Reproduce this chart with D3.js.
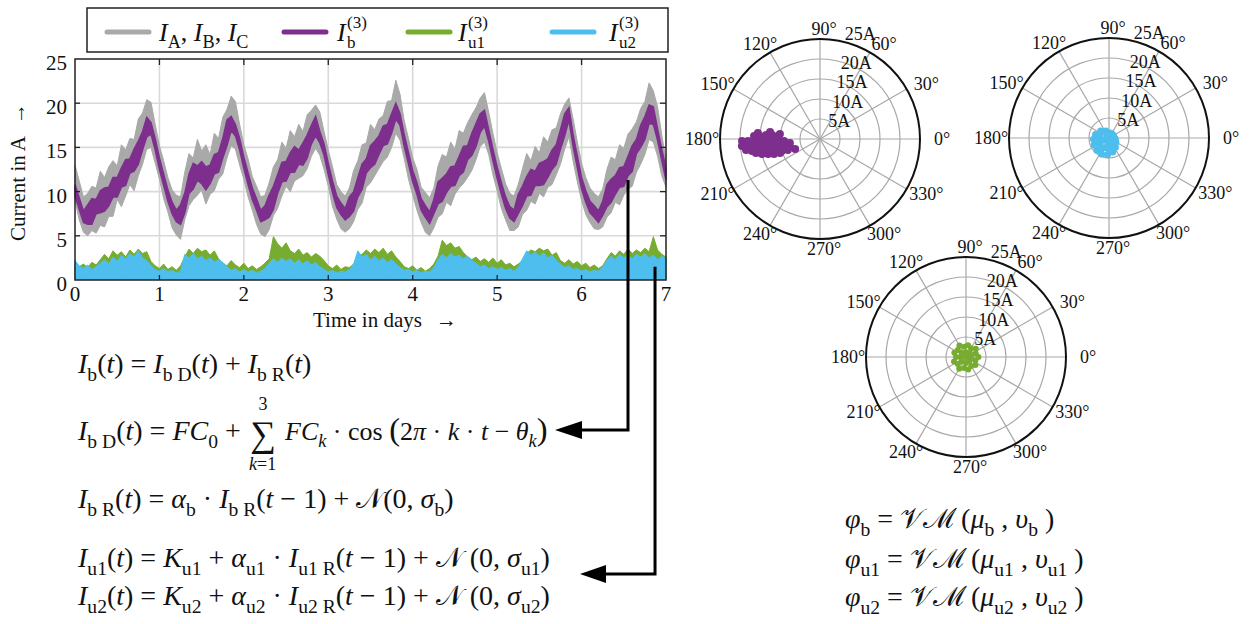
<!DOCTYPE html>
<html lang="en">
<head>
<meta charset="UTF-8">
<title>Current model</title>
<script src="https://d3js.org/d3.v7.min.js"></script>
<style>
  body { margin: 0; background: #fff; }
  text { font-family: "Liberation Serif", "Times New Roman", serif; fill: #111; white-space: pre; }
  .grid line { stroke: #d9d9d9; stroke-width: 1.6px; }
  .frame { fill: none; stroke: #222; stroke-width: 1.5px; }
  .tick { stroke: #222; stroke-width: 1.3px; }
  .pgrid { fill: none; stroke: #a8a8a8; stroke-width: 1.2px; }
  .arrow { fill: none; stroke: #000; stroke-width: 3px; }
</style>
</head>
<body>
<svg id="fig" width="1250" height="624"></svg>
<script>
/* global d3 */

// ---- data ----
var tStep = 0.05; // days between samples
var xTicks = [0, 1, 2, 3, 4, 5, 6, 7];
var yTicks = [0, 5, 10, 15, 20, 25];

// phase currents I_A, I_B, I_C: upper / lower trace
var gHi = [13.0,11.2,9.4,9.8,10.6,10.4,12.3,11.6,12.8,13.5, 12.9,15.3,14.7,16.0,15.9,18.2,18.9,20.4,20.1,17.6, 15.2,13.5,11.6,10.2,9.6,9.4,12.2,14.3,13.8,15.9, 14.6,15.3,14.2,16.6,16.0,18.4,19.3,20.8,20.2,17.6, 15.3,13.7,11.7,10.6,9.4,9.6,11.0,12.8,13.6,15.6, 14.9,16.9,16.2,17.6,16.8,18.7,19.2,19.8,19.0,16.8, 14.7,12.8,10.8,10.0,9.5,10.4,12.4,13.5,15.3,15.5, 17.6,17.0,18.2,18.6,20.2,20.3,22.6,21.0,18.0,16.0, 13.8,12.5,10.5,9.9,9.3,10.4,12.9,14.2,13.9,15.6, 14.8,16.9,16.6,17.8,18.7,19.5,20.6,21.2,19.0,16.6, 14.4,12.6,10.9,9.8,9.5,10.8,12.6,14.3,13.5,15.1, 14.4,16.2,15.6,17.0,17.2,18.8,19.9,20.6,18.2,15.6, 13.2,11.6,10.4,9.8,9.4,10.3,12.5,13.9,13.6,15.3, 14.9,16.5,17.1,17.9,19.4,20.2,22.3,21.4,19.6,16.4, 13.6];
var gLo = [9.0,6.8,5.4,5.0,5.6,5.3,6.2,6.0,7.2,7.2, 9.1,8.3,9.5,10.8,10.1,11.8,13.1,14.8,15.0,13.2, 11.4,9.2,7.7,5.9,5.1,4.6,6.8,8.4,9.1,9.6, 10.2,8.6,9.7,10.1,11.4,12.0,13.8,15.2,14.8,13.0, 11.4,9.4,7.9,6.3,5.2,4.9,5.7,7.3,8.1,9.5, 10.6,10.0,11.2,11.5,11.8,12.6,14.0,14.9,14.1,12.5, 10.6,8.3,6.9,5.8,5.4,5.8,6.6,8.0,8.7,10.5, 11.0,11.8,12.6,13.4,13.9,15.0,16.6,15.8,13.7,11.4, 9.6,7.9,6.5,5.4,5.0,5.9,7.1,7.5,8.8,8.4, 9.7,10.4,10.9,11.6,12.4,13.6,15.1,15.6,14.2,11.9, 10.1,8.1,6.8,5.6,5.6,6.0,7.4,7.9,8.9,8.6, 9.8,9.4,10.5,10.8,11.9,13.1,14.8,16.2,13.4,11.1, 9.0,7.4,6.5,5.8,5.7,6.0,7.1,7.6,8.8,8.5, 9.6,10.3,10.6,12.2,13.1,14.2,15.9,15.6,14.0,11.8, 10.5];

// synthetic balanced current I_b^(3): upper / lower edge of the noisy trace
var pHi = [10.8,9.3,7.8,8.5,9.2,9.1,10.1,10.4,10.5,11.6, 11.6,12.7,13.6,13.7,14.8,15.7,16.8,18.4,17.8,16.0, 13.8,12.0,10.2,8.8,7.9,8.5,9.8,12.0,13.2,12.9, 13.4,12.8,13.0,14.2,14.4,16.0,18.1,18.5,17.6,16.0, 13.9,12.1,10.4,9.2,7.9,8.4,9.6,10.6,11.9,13.3, 13.4,14.4,15.1,14.7,15.5,16.4,17.5,18.5,16.8,15.4, 13.2,11.2,9.5,8.7,8.1,9.4,10.0,11.6,13.1,13.7, 15.2,15.7,16.3,17.4,17.6,18.8,20.0,18.8,16.4,14.4, 12.4,11.0,9.2,8.4,7.7,9.1,11.1,11.5,12.0,12.8, 12.9,14.0,15.1,15.2,16.6,17.7,18.8,19.2,17.0,14.8, 12.8,11.0,9.4,8.3,7.9,9.7,10.6,11.7,12.5,12.3, 13.2,13.4,13.7,14.7,15.3,17.0,18.8,19.5,16.4,14.0, 11.6,10.1,8.9,8.4,7.8,8.9,10.8,11.4,11.8,12.7, 12.8,14.0,15.2,15.9,17.5,18.5,19.8,19.6,17.1,14.8, 12.6];
var pLo = [9.5,8.0,6.5,6.3,6.3,7.5,7.6,7.8,8.4,9.4, 9.4,10.5,10.7,12.1,12.3,13.1,14.7,16.2,16.5,14.7, 12.5,10.7,8.9,7.5,6.6,6.3,7.6,9.8,10.3,11.3, 10.9,10.2,10.9,12.0,12.2,13.8,15.2,16.9,16.3,14.7, 12.6,10.8,9.1,7.9,6.6,6.8,7.1,8.0,9.8,11.1, 11.2,12.2,12.2,13.1,13.0,13.8,15.4,16.3,15.5,14.1, 11.9,9.9,8.2,7.4,6.8,7.2,7.8,9.4,10.2,12.1, 12.7,13.1,14.2,15.2,15.4,16.6,18.2,17.5,15.1,13.1, 11.1,9.7,7.9,7.1,6.4,7.5,8.6,8.9,9.9,10.6, 10.7,11.8,12.2,13.6,14.1,15.1,16.7,17.4,15.7,13.5, 11.5,9.7,8.1,7.0,6.6,7.5,8.4,9.5,9.6,10.7, 10.7,10.8,11.6,12.5,13.1,14.8,16.3,18.1,15.1,12.7, 10.3,8.8,7.6,7.1,6.5,7.3,8.3,8.8,9.7,10.5, 10.6,11.8,12.3,14.3,15.0,15.9,17.7,17.6,15.8,13.5, 11.3];

// unbalance currents I_u1^(3) (green) and I_u2^(3) (blue): top of the noise
var u1 = [1.9,1.5,1.8,1.4,2.0,1.7,2.3,2.9,2.4,3.3, 2.8,3.2,2.6,3.4,2.9,3.5,3.0,3.2,2.1,1.6, 1.3,1.8,1.2,1.5,1.1,1.6,2.6,3.5,3.0,3.6, 3.2,3.4,2.8,3.3,2.4,1.9,1.6,2.2,1.7,1.4, 1.9,1.3,1.6,1.2,1.5,1.9,2.4,4.9,4.1,3.6, 4.2,3.3,3.0,3.5,2.8,3.1,2.6,3.0,2.7,2.2, 1.6,1.3,1.7,1.2,1.5,1.4,1.8,2.6,2.9,3.4, 3.0,3.5,3.1,3.6,2.9,3.3,2.6,2.1,1.5,1.3, 1.6,1.1,1.4,1.0,1.3,1.8,2.7,4.5,3.9,4.2, 3.6,3.8,3.1,2.6,2.3,2.6,2.1,2.4,2.0,2.5, 1.9,2.3,1.7,1.9,1.5,1.8,2.2,3.0,3.4,3.2, 3.6,3.3,3.5,2.8,3.1,2.2,1.9,2.3,1.8,2.1, 1.6,1.9,1.4,1.7,1.3,1.6,2.4,3.1,2.7,3.3, 2.9,3.5,3.0,3.4,3.1,3.6,3.2,4.9,3.4,2.9, 2.6];
var u2 = [2.2,1.6,1.3,1.7,1.2,1.5,1.9,2.3,1.8,2.6, 2.1,2.8,2.4,3.0,2.6,3.3,2.5,2.2,1.6,1.2, 1.0,1.3,0.9,1.1,0.8,1.0,2.9,2.5,3.0,2.4, 2.7,2.2,2.5,2.0,2.3,2.0,1.5,1.1,1.3,0.9, 1.2,0.9,1.1,0.8,1.0,1.3,1.9,2.4,2.0,2.5, 2.1,2.4,1.9,2.3,1.8,2.2,1.7,2.0,1.5,1.2, 0.9,1.1,0.8,1.0,0.9,1.2,1.8,3.3,2.6,2.9, 2.3,2.7,2.2,2.5,2.0,2.3,1.8,1.4,1.1,1.2, 0.9,1.1,0.8,1.0,0.9,1.4,2.3,2.9,2.5,3.0, 2.6,2.8,2.4,2.7,2.2,1.9,1.5,1.7,1.3,1.5, 1.2,1.4,1.1,1.3,1.0,1.4,2.4,3.3,2.8,3.2, 2.7,3.1,2.5,2.8,2.2,1.8,1.4,1.6,1.2,1.3, 1.0,1.2,0.9,1.1,1.0,1.5,2.2,2.7,2.3,2.9, 2.5,2.8,2.4,2.9,2.6,3.0,2.5,2.8,2.3,2.7, 2.4];

// polar phasor clouds: [angle in degrees, magnitude in A]
var phiB = [[177.4,16.5],[177.1,15.0],[175.8,13.5],[175.2,12.0],[175.9,10.5],[174.5,15.6],[172.0,12.6],[172.9,10.1],
  [181.5,19.5],[181.6,18.0],[181.7,16.5],[181.9,15.0],[182.1,13.5],[182.4,12.0],[182.7,10.5],[183.2,9.0],[187.6,7.6],
  [185.1,19.6],[185.6,18.1],[186.1,16.6],[186.7,15.1],[187.4,13.6],[188.3,12.1],[189.5,10.6],[191.0,9.2],[194.9,7.8],[201.8,6.7],
  [188.5,18.7],[190.0,17.3],[191.0,15.8],[192.1,14.3],[193.5,12.9],[195.3,11.4],[197.5,10.0],[199.0,8.5],
  [192.3,16.4],[194.5,15.0],[196.1,13.5],[198.1,12.1],[199.3,10.6]];
var phiU2 = [[0,1.4],[30,1.3],[60,1.3],[90,1.3],[115,1.9],[140,2.7],[165,3.5],[185,3.9],[205,4.1],[225,4.3],[245,4.4],[265,4.2],[285,3.6],[305,2.8],[330,2.0],[350,1.6],
  [0,0],[40,0.7],[120,1.0],[200,1.5],[260,1.4],[320,0.9],[170,2.3],[215,2.7],[250,2.6],[285,2.2],[190,3.0],[235,3.4],[270,3.0]];
var phiU1 = [[0,3.1],[20,2.6],[40,3.2],[60,2.5],[80,3.0],[100,2.6],[120,3.3],[140,2.7],[160,3.1],[180,2.5],[200,3.2],[220,2.7],[240,3.4],[260,2.8],[280,3.2],[300,2.6],[320,3.1],[340,2.5],
  [0,0],[45,1.4],[135,1.5],[225,1.6],[315,1.3],[90,1.2],[270,1.5],[180,1.4],[0,1.3]];

var rings = [5, 10, 15, 20, 25];
var spokes = [0, 30, 60, 90, 120, 150, 180, 210, 240, 270, 300, 330];

var colGray = "#a9a9a9", colPurple = "#7e2f8e", colGreen = "#77ac30", colBlue = "#4dbeee";

// ---- setup ----
var svg = d3.select("#fig");
svg.append("rect").attr("width", 1250).attr("height", 624).attr("fill", "#fff");

var x = d3.scaleLinear().domain([0, 7]).range([75, 666]);
var y = d3.scaleLinear().domain([0, 25]).range([280, 59]);
var tOf = function(i) { return i * tStep; };

// grid
var grid = svg.append("g").attr("class", "grid");
grid.selectAll(".gx").data(xTicks.slice(1, -1)).enter().append("line")
  .attr("x1", d => x(d)).attr("x2", d => x(d)).attr("y1", y(0)).attr("y2", y(25));
grid.selectAll(".gy").data(yTicks.slice(1, -1)).enter().append("line")
  .attr("x1", x(0)).attr("x2", x(7)).attr("y1", d => y(d)).attr("y2", d => y(d));

// series
var band = function(hi, lo) {
  return d3.area().x((d, i) => x(tOf(i))).y0((d, i) => y(lo[i])).y1((d, i) => y(hi[i]));
};
svg.append("path").datum(gHi).attr("d", band(gHi, gLo))
  .attr("fill", colGray).attr("stroke", colGray).attr("stroke-width", 1);
svg.append("path").datum(pHi).attr("d", band(pHi, pLo))
  .attr("fill", colPurple).attr("stroke", colPurple).attr("stroke-width", 1.5);

var zeros = u1.map(() => 0.1);
svg.append("path").datum(u1).attr("d", band(u1, zeros))
  .attr("fill", colGreen).attr("stroke", colGreen).attr("stroke-width", 1);
svg.append("path").datum(u2).attr("d", band(u2, zeros))
  .attr("fill", colBlue).attr("stroke", colBlue).attr("stroke-width", 1);

// frame + inner ticks
svg.append("rect").attr("class", "frame")
  .attr("x", x(0)).attr("y", y(25)).attr("width", x(7) - x(0)).attr("height", y(0) - y(25));
svg.selectAll(".tt").data(xTicks.slice(1, -1)).enter().append("line").attr("class", "tick")
  .attr("x1", d => x(d)).attr("x2", d => x(d)).attr("y1", y(25)).attr("y2", y(25) + 6);
svg.selectAll(".tb").data(xTicks.slice(1, -1)).enter().append("line").attr("class", "tick")
  .attr("x1", d => x(d)).attr("x2", d => x(d)).attr("y1", y(0)).attr("y2", y(0) - 5);
svg.selectAll(".tr").data(yTicks.slice(1, -1)).enter().append("line").attr("class", "tick")
  .attr("x1", x(7)).attr("x2", x(7) - 6).attr("y1", d => y(d)).attr("y2", d => y(d));
svg.selectAll(".tl").data(yTicks.slice(1, -1)).enter().append("line").attr("class", "tick")
  .attr("x1", x(0)).attr("x2", x(0) + 5).attr("y1", d => y(d)).attr("y2", d => y(d));

// tick labels
svg.selectAll(".xl").data(xTicks).enter().append("text")
  .attr("x", d => x(d)).attr("y", 301).attr("text-anchor", "middle")
  .style("font-size", "21px").text(d => d);
svg.selectAll(".yl").data(yTicks).enter().append("text")
  .attr("x", 67).attr("y", d => y(d) + 11).attr("text-anchor", "end")
  .style("font-size", "21px").text(d => d);

// axis titles
svg.append("text").attr("x", 313).attr("y", 327).style("font-size", "21px")
  .text("Time in days").append("tspan").attr("dx", 14).text("\u2192");
svg.append("text").attr("transform", "translate(25,172) rotate(-90)")
  .attr("text-anchor", "middle").style("font-size", "21px")
  .text("Current in A").append("tspan").attr("dx", 12).text("\u2192");

// ---- legend ----
svg.append("rect").attr("x", 87).attr("y", 8).attr("width", 581).attr("height", 44)
  .attr("fill", "#fff").attr("stroke", "#222").attr("stroke-width", 1.5);
var legItems = [
  { c: colGray, x: 107 }, { c: colPurple, x: 284 }, { c: colGreen, x: 408 }, { c: colBlue, x: 552 }
];
svg.selectAll(".lg").data(legItems).enter().append("line")
  .attr("x1", d => d.x).attr("x2", d => d.x + 42).attr("y1", 32).attr("y2", 32)
  .attr("stroke", d => d.c).attr("stroke-width", 5).attr("stroke-linecap", "round");

function mathText(g, px, py, parts, size) {
  var t = g.append("text").attr("x", px).attr("y", py).style("font-size", size + "px");
  var shift = 0;
  parts.forEach(function(p) {
    var s = p[0], k = p[1];
    var sub = k.charAt(0) === "s";
    var target = sub ? size * 0.28 : 0;
    var ts = t.append("tspan").attr("dy", target - shift).text(s);
    shift = target;
    ts.style("font-style", k.charAt(k.length - 1) === "i" ? "italic" : "normal");
    if (sub) ts.style("font-size", (size * 0.7) + "px");
    if (k === "big") ts.style("font-size", (size * 1.25) + "px");
  });
  return t;
}

mathText(svg, 159, 41, [["I", "i"], ["A", "sr"], [", ", "r"], ["I", "i"], ["B", "sr"], [", ", "r"], ["I", "i"], ["C", "sr"]], 26);
[["b", 337], ["u1", 458], ["u2", 609]].forEach(function(l) {
  svg.append("text").attr("x", l[1]).attr("y", 41).style("font-size", "26px").style("font-style", "italic").text("I");
  svg.append("text").attr("x", l[1] + 10).attr("y", 28).style("font-size", "17px").text("(3)");
  svg.append("text").attr("x", l[1] + 10).attr("y", 48).style("font-size", "17px").text(l[0]);
});

// ---- polar plots ----
function polar(cx, cy, pts, col, dotR) {
  var g = svg.append("g").attr("transform", "translate(" + cx + "," + cy + ")");
  var r = d3.scaleLinear().domain([0, 25]).range([0, 100]);
  var rad = a => a * Math.PI / 180;
  g.selectAll(".ring").data(rings.slice(0, -1)).enter().append("circle")
    .attr("class", "pgrid").attr("r", d => r(d));
  g.selectAll(".spoke").data(spokes).enter().append("line").attr("class", "pgrid")
    .attr("x1", 0).attr("y1", 0)
    .attr("x2", d => r(25) * Math.cos(rad(d))).attr("y2", d => -r(25) * Math.sin(rad(d)));
  g.selectAll(".dot").data(pts).enter().append("circle")
    .attr("cx", d => r(d[1]) * Math.cos(rad(d[0])))
    .attr("cy", d => -r(d[1]) * Math.sin(rad(d[0])))
    .attr("r", dotR).attr("fill", col);
  g.append("circle").attr("r", r(25)).attr("fill", "none").attr("stroke", "#111").attr("stroke-width", 2);
  g.selectAll(".al").data(spokes).enter().append("text")
    .attr("x", d => { var c = Math.cos(rad(d)); return 116 * c + (c > 0.1 ? 6 : (c < -0.1 ? -2 : 4)); })
    .attr("y", d => -110 * Math.sin(rad(d)))
    .attr("dominant-baseline", "central").attr("text-anchor", "middle")
    .style("font-size", "18px").text(d => d + "\u00b0");
  g.selectAll(".rl").data(rings).enter().append("text")
    .attr("x", d => r(d) * Math.cos(rad(78)) + 4)
    .attr("y", d => -r(d) * Math.sin(rad(78)) + (d === 25 ? -7 : 2))
    .attr("dominant-baseline", "central")
    .style("font-size", "18px").text(d => d + "A");
}
polar(820, 139, phiB, colPurple, 4);
polar(1109, 138, phiU2, colBlue, 3.5);
polar(966, 357, phiU1, colGreen, 3);

// ---- equations ----
var eq = svg.append("g");
var S = 28;
mathText(eq, 78, 373, [["I","i"],["b","sr"],["(","r"],["t","i"],[") = ","r"],["I","i"],["b D","sr"],["(","r"],["t","i"],[") + ","r"],["I","i"],["b R","sr"],["(","r"],["t","i"],[")","r"]], S);
mathText(eq, 78, 440, [["I","i"],["b D","sr"],["(","r"],["t","i"],[") = ","r"],["FC","i"],["0","sr"],[" +","r"]], S);
eq.append("text").attr("x", 263).attr("y", 446).attr("text-anchor", "middle").style("font-size", "36px").text("\u2211");
eq.append("text").attr("x", 263).attr("y", 410).attr("text-anchor", "middle").style("font-size", "18px").text("3");
mathText(eq, 249, 470, [["k","i"],["=1","r"]], 18);
mathText(eq, 285, 440, [["FC","i"],["k","si"],[" \u00b7 cos ","r"],["(","big"],["2","r"],["\u03c0","i"],[" \u00b7 ","r"],["k","i"],[" \u00b7 ","r"],["t","i"],[" \u2212 ","r"],["\u03b8","i"],["k","si"],[")","big"]], 26);
mathText(eq, 78, 508, [["I","i"],["b R","sr"],["(","r"],["t","i"],[") = ","r"],["\u03b1","i"],["b","sr"],[" \u00b7 ","r"],["I","i"],["b R","sr"],["(","r"],["t","i"],[" \u2212 1) + ","r"],["\ud835\udca9","r"],["(0, ","r"],["\u03c3","i"],["b","sr"],[")","r"]], S);
["u1", "u2"].forEach(function(u, j) {
  mathText(eq, 78, j ? 605 : 567, [["I","i"],[u,"sr"],["(","r"],["t","i"],[") = ","r"],["K","i"],[u,"sr"],[" + ","r"],["\u03b1","i"],[u,"sr"],[" \u00b7 ","r"],["I","i"],[u + " R","sr"],["(","r"],["t","i"],[" \u2212 1) + ","r"],["\ud835\udca9","r"],[" (0, ","r"],["\u03c3","i"],[u,"sr"],[")","r"]], S);
});
["b", "u1", "u2"].forEach(function(u, j) {
  mathText(eq, 845, [528, 568, 606][j], [["\u03c6","i"],[u,"sr"],[" = ","r"],["\ud835\udcb1\u2133","r"],[" (","r"],["\u03bc","i"],[u,"sr"],[" , ","r"],["\u03c5","i"],[u,"sr"],[" )","r"]], S);
});

// ---- arrows linking the traces to their models ----
var arr = svg.append("g");
arr.append("path").attr("class", "arrow")
  .attr("d", "M" + x(6.55) + "," + y(11.3) + "V430H578");
arr.append("path").attr("d", "M555,430L582,421L582,439Z").attr("fill", "#000");
arr.append("path").attr("class", "arrow")
  .attr("d", "M" + x(6.87) + "," + y(1.5) + "V574H602");
arr.append("path").attr("d", "M580,574L606,565L606,583Z").attr("fill", "#000");
</script>
</body>
</html>
